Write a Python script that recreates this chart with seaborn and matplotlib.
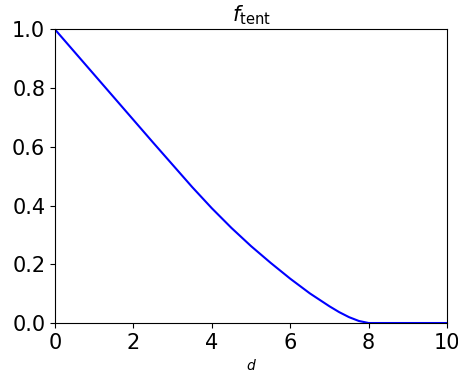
import matplotlib
matplotlib.use("Agg")
import matplotlib.pyplot as plt
import seaborn as sns
import pandas as pd

# Tent weight as a function of distance d
d_values = [0.0, 0.5, 1.0, 1.5, 2.0, 2.5, 3.0, 3.5, 4.0, 4.5, 5.0, 5.5,
            6.0, 6.5, 7.0, 7.25, 7.5, 7.75, 8.0, 9.0, 10.0]
f_values = [1.0, 0.923, 0.846, 0.769, 0.692, 0.615, 0.539, 0.463, 0.391,
            0.324, 0.262, 0.205, 0.151, 0.101, 0.057, 0.037, 0.020, 0.007,
            0.0, 0.0, 0.0]
x_ticks = [0, 2, 4, 6, 8, 10]
y_ticks = [0.0, 0.2, 0.4, 0.6, 0.8, 1.0]

df = pd.DataFrame({"d": d_values, "f": f_values})

fig = plt.figure(figsize=(4.58, 3.73), dpi=100)
ax = fig.add_axes([0.1201, 0.134, 0.856, 0.787])

sns.lineplot(data=df, x="d", y="f", ax=ax, color="blue", linewidth=1.5)

ax.set_xlim(0, 10)
ax.set_ylim(0, 1)
ax.set_xticks(x_ticks)
ax.set_xticklabels([str(t) for t in x_ticks])
ax.set_yticks(y_ticks)
ax.set_yticklabels([f"{t:.1f}" for t in y_ticks])
ax.tick_params(labelsize=15)
ax.set_xlabel("$d$", fontsize=10)
ax.set_ylabel("")
ax.set_title(r"$f_{\rm tent}$", fontsize=15)

fig.savefig("out.png", dpi=100)
